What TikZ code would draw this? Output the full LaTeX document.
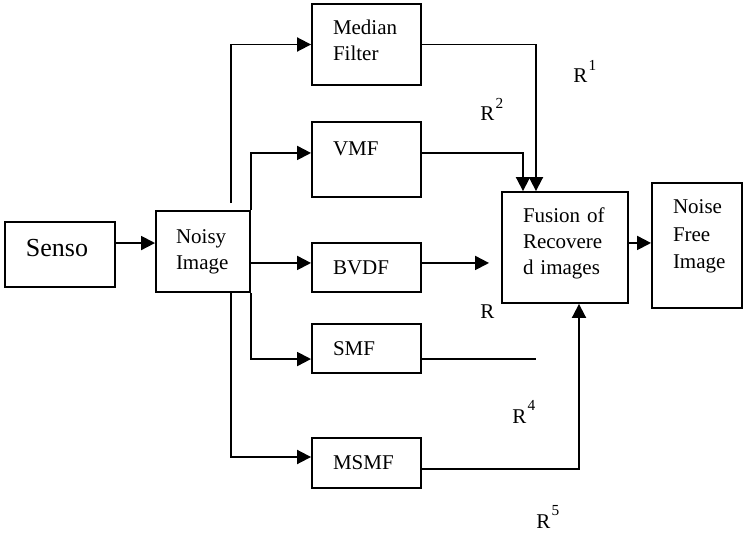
\documentclass[tikz,border=0pt]{standalone}
\usepackage{fontspec}
\setmainfont{Liberation Serif}
\usetikzlibrary{arrows.meta,positioning,calc}
\newcommand{\Rsup}[1]{R\kern1pt\raisebox{9.5pt}{\fontsize{11.5pt}{12pt}\selectfont #1}}

\begin{document}
\begin{tikzpicture}[x=0.75pt, y=-0.75pt,
    box/.style={draw, line width=1.4pt, inner xsep=15.75pt, align=left,
      font=\fontsize{15.75pt}{19.5pt}\selectfont},
    wire/.style={line width=1.4pt},
    feed/.style={wire, -{Triangle[length=10.5pt, width=10.5pt]}},
    rlab/.style={anchor=base west, inner sep=0pt, font=\fontsize{15.75pt}{19.5pt}\selectfont}]
\useasboundingbox (0,0) rectangle (744,535);

% Blocks
\node[box, minimum width=82.5pt, minimum height=48.75pt, text width=51pt, text depth=9.9pt,
  font=\fontsize{19.5pt}{23pt}\selectfont] (senso) at (60,254.5) {Senso};
\node[box, inner xsep=15pt, minimum width=70.5pt, minimum height=60.75pt, text width=40.5pt] (noisy) at (203,251.5) {Noisy\\Image};
\node[box, minimum width=81.75pt, minimum height=60.75pt, text width=50.25pt, text depth=26.5pt] (median) at (366.5,44.5) {Median\\Filter};
\node[box, minimum width=81.75pt, minimum height=56.25pt, text width=50.25pt, text depth=17pt] (vmf) at (366.5,159.5) {VMF};
\node[box, minimum width=81.75pt, minimum height=36.75pt, text width=50.25pt] (bvdf) at (366.5,267.5) {BVDF};
\node[box, minimum width=81.75pt, minimum height=36.75pt, text width=50.25pt] (smf) at (366.5,348.5) {SMF};
\node[box, minimum width=81.75pt, minimum height=37.5pt, text width=50.25pt] (msmf) at (366.5,463) {MSMF};
\node[box, minimum width=94.5pt, minimum height=83.25pt, text width=63pt, text depth=49pt] (fusion) at (565,247.5) {Fusion of\\Recovere\\d images};
\node[box, minimum width=67.5pt, minimum height=93.75pt, text width=36pt, text depth=57.7pt,
  font=\fontsize{15.75pt}{20.5pt}\selectfont] (nfree) at (697,245.5) {Noise\\Free\\Image};

% Taps
\coordinate (s-out) at ([yshift=8.6pt]senso.east);
\coordinate (tapA) at ([xshift=21pt, yshift=5.25pt]noisy.north);
\coordinate (tapB) at ([xshift=21pt]noisy.south);
\coordinate (vmf-in) at ([yshift=4.9pt]vmf.west);
\coordinate (bvdf-in) at ([yshift=3.4pt]bvdf.west);
\coordinate (smf-in) at ([yshift=-7.9pt]smf.west);
\coordinate (msmf-in) at ([yshift=4.5pt]msmf.west);
\coordinate (msmf-out) at ([yshift=-4.5pt]msmf.east);
\coordinate (f1) at ([xshift=-21.75pt]fusion.north);
\coordinate (f2) at ([xshift=-31.5pt]fusion.north);
\coordinate (f3) at ([xshift=-21.75pt]fusion.south);
\coordinate (f4) at ([xshift=10.5pt]fusion.south);
\coordinate (f-out) at ([yshift=3.4pt]fusion.east);

% Inputs
\draw[feed] (s-out) -- (s-out -| noisy.west);
\draw[feed] (tapA) |- (median.west);
\draw[feed] (tapB) |- (msmf-in);
\draw[feed] (noisy.north east) |- (vmf-in);
\draw[feed] (noisy.south east) |- (smf-in);
\draw[feed] (bvdf-in -| noisy.east) -- (bvdf-in);

% Outputs
\draw[feed] (median.east) -| (f1);
\draw[feed] (vmf-in -| vmf.east) -| (f2);
\draw[feed, shorten >=9pt] (bvdf-in -| bvdf.east) -- (bvdf-in -| fusion.west);
\draw[wire] (smf-in -| smf.east) -- (smf-in -| f3);
\draw[feed] (msmf-out) -| (f4);
\draw[feed] (f-out) -- (f-out -| nfree.west);

% Labels
\node[rlab] (r1) at (573,83) {\Rsup{1}};
\node[rlab] (r2) at (480,121) {\Rsup{2}};
\node[rlab] (r3) at (480,318) {R};
\node[rlab] (r4) at (512,423) {\Rsup{4}};
\node[rlab] (r5) at (536,528) {\Rsup{5}};
\end{tikzpicture}
\end{document}
